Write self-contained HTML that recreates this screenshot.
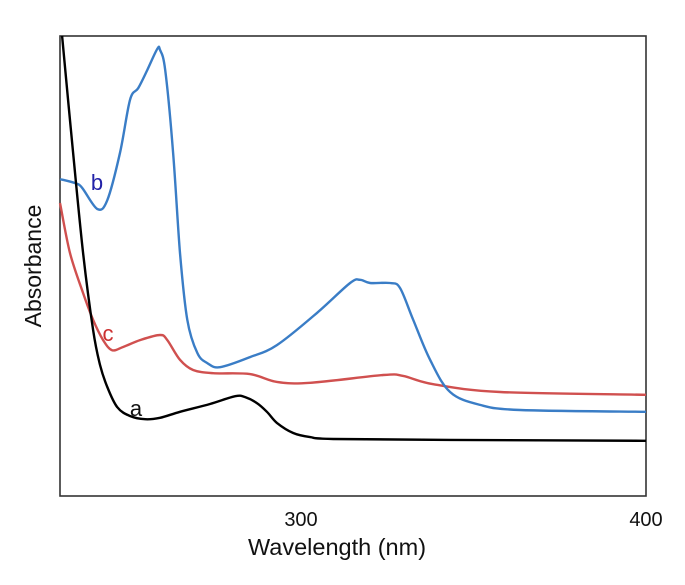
<!DOCTYPE html>
<html><head><meta charset="utf-8"><style>
html,body{margin:0;padding:0;background:#fff;}
svg{display:block;font-family:"Liberation Sans",Arial,sans-serif;}
</style></head><body>
<svg id="chart" width="685" height="585" viewBox="0 0 685 585">
<rect x="60" y="36" width="586" height="460" fill="none" stroke="#333" stroke-width="1.6"/>
<g id="series"></g>
<text x="301" y="526" font-size="20" text-anchor="middle" fill="#111">300</text>
<text x="646" y="526" font-size="20" text-anchor="middle" fill="#111">400</text>
<text x="337" y="555" font-size="23.5" text-anchor="middle" fill="#111">Wavelength (nm)</text>
<text transform="translate(41,266) rotate(-90)" font-size="23" text-anchor="middle" fill="#111">Absorbance</text>
<text x="97" y="190" font-size="22" text-anchor="middle" fill="#2222a8">b</text>
<text x="108" y="341" font-size="22" text-anchor="middle" fill="#cc3030">c</text>
<text x="136" y="416" font-size="22" text-anchor="middle" fill="#111">a</text>
</svg>
<script>
const wlA=[230.7,233.9,236.8,239.7,241.7,243.8,246.7,250.4,254.8,259.1,264.9,273.6,280.9,283.8,287.2,290.1,293.0,297.7,302.6,309.3,343.2,400.0];
const absA=[1.000,0.746,0.528,0.361,0.285,0.237,0.193,0.174,0.167,0.170,0.183,0.200,0.217,0.215,0.202,0.183,0.159,0.137,0.128,0.124,0.122,0.120];
const wlB=[230.1,234.5,236.5,240.9,243.8,247.5,250.4,252.8,255.4,258.3,259.1,260.6,262.9,264.9,267.0,269.9,272.8,276.5,285.2,293.0,304.6,314.2,317.1,320.0,325.8,328.7,332.5,337.4,343.2,351.9,363.5,400.0];
const absB=[0.689,0.680,0.670,0.624,0.643,0.746,0.861,0.887,0.926,0.972,0.970,0.926,0.746,0.528,0.383,0.311,0.289,0.280,0.302,0.328,0.398,0.463,0.470,0.463,0.463,0.452,0.383,0.296,0.226,0.198,0.187,0.183];
const wlC=[230.1,233.0,236.8,239.7,242.6,245.2,248.4,253.3,259.1,261.2,264.9,268.7,274.5,285.2,293.0,302.6,323.8,329.6,338.3,357.7,400.0];
const absC=[0.637,0.528,0.441,0.383,0.339,0.317,0.324,0.339,0.350,0.339,0.296,0.274,0.267,0.265,0.248,0.246,0.263,0.261,0.243,0.226,0.220];
const X_MIN=230.1,X_MAX=400,PL=60,PR=646,PT=36,PB=496;
function xs(w){return PL+(w-X_MIN)/(X_MAX-X_MIN)*(PR-PL);}
function ys(a){return PB-a*(PB-PT);}
function pathFor(wl,ab){
  const p=wl.map((w,i)=>[xs(w),ys(ab[i])]);
  let d='M'+p[0][0].toFixed(1)+','+p[0][1].toFixed(1);
  for(let i=0;i<p.length-1;i++){
    const p0=i>0?p[i-1]:p[i],p1=p[i],p2=p[i+1],p3=i+2<p.length?p[i+2]:p2;
    const c1=[p1[0]+(p2[0]-p0[0])/6,p1[1]+(p2[1]-p0[1])/6];
    const c2=[p2[0]-(p3[0]-p1[0])/6,p2[1]-(p3[1]-p1[1])/6];
    d+='C'+c1[0].toFixed(1)+','+c1[1].toFixed(1)+' '+c2[0].toFixed(1)+','+c2[1].toFixed(1)+' '+p2[0].toFixed(1)+','+p2[1].toFixed(1);
  }
  return d;
}
const seriesGroup=document.getElementById('series');
const SVGNS='http://www.w3.org/2000/svg';
function addLine(wl,ab,color,name){
  const el=document.createElementNS(SVGNS,'path');
  el.setAttribute('d',pathFor(wl,ab));
  el.setAttribute('fill','none');
  el.setAttribute('stroke',color);
  el.setAttribute('stroke-width','2.4');
  el.setAttribute('stroke-linejoin','round');
  
  
  seriesGroup.appendChild(el);
}
addLine(wlC,absC,'#d0504f','series-c-line');
addLine(wlB,absB,'#3a7dc6','series-b-line');
addLine(wlA,absA,'#000000','series-a-line');
</script>
</body></html>
